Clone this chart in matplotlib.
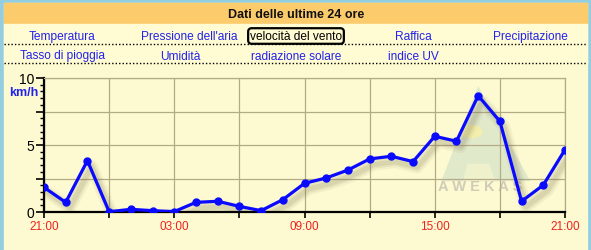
import matplotlib.pyplot as plt
import matplotlib.patheffects as pe
from matplotlib.patches import Rectangle, Polygon, Circle
from matplotlib.lines import Line2D

plt.rcParams['font.family'] = ['Liberation Sans', 'DejaVu Sans']

# hourly wind speed, 21:00 -> 21:00
hours = list(range(25))
speed = [1.84, 0.72, 3.83, 0.02, 0.2, 0.1, 0.03, 0.72, 0.8, 0.42, 0.1, 0.92,
         2.14, 2.54, 3.13, 3.96, 4.16, 3.76, 5.65, 5.28, 8.68, 6.77, 0.8, 2.01, 4.65]
tick_pos = [0, 3, 6, 9, 12, 15, 18, 21, 24]
tick_labels = ['21:00', '', '03:00', '', '09:00', '', '15:00', '', '21:00']

menu_row1 = ['Temperatura', "Pressione dell'aria", 'velocità del vento', 'Raffica', 'Precipitazione']
menu_row1_x = [62, 189, 296, 413, 530]
menu_row2 = ['Tasso di pioggia', 'Umidità', 'radiazione solare', 'indice UV']
menu_row2_x = [62, 180, 296, 413]

W, H = 591, 251
fig = plt.figure(figsize=(W / 100, H / 100), dpi=100, facecolor='#fdf9d0')


def fx(px):
    return px / W


def fy(py):
    return 1 - py / H


# page frame, header band and menu rows
fig.add_artist(Rectangle((0, 0), 1, 1, transform=fig.transFigure, color='#92cde0', zorder=0))
fig.add_artist(Rectangle((fx(4), 0), fx(583), fy(4), transform=fig.transFigure,
                         color='#fdf9d0', zorder=0))
fig.add_artist(Rectangle((fx(4), fy(25)), fx(583), fy(4) - fy(25), transform=fig.transFigure,
                         color='#fccb6b', zorder=0))
fig.add_artist(Rectangle((fx(4), fy(64)), fx(583), fy(25) - fy(64), transform=fig.transFigure,
                         color='#fffbd3', zorder=0))
for yy in [45, 64]:
    fig.add_artist(Line2D([fx(4), fx(587)], [fy(yy), fy(yy)], transform=fig.transFigure,
                          color='black', lw=1, ls=(0, (1, 1.5)), zorder=1))

fig.text(fx(296), fy(15.5), 'Dati delle ultime 24 ore', ha='center', va='center',
         fontsize=9, fontweight='bold', color='#111111')
for lab, x in zip(menu_row1, menu_row1_x):
    if lab == 'velocità del vento':
        fig.text(fx(x), fy(37), lab, ha='center', va='center', fontsize=8.6, color='black',
                 bbox=dict(boxstyle='round,pad=0.15,rounding_size=0.3', fc='none', ec='black', lw=1.6))
    else:
        fig.text(fx(x), fy(37), lab, ha='center', va='center', fontsize=8.6, color='#2222ee')
for lab, x in zip(menu_row2, menu_row2_x):
    fig.text(fx(x), fy(56.5), lab, ha='center', va='center', fontsize=8.6, color='#2222ee')

# chart
ax = fig.add_axes([fx(44), fy(213), fx(521), fy(79) - fy(213)])
ax.set_facecolor('#fdf9d0')
ax.set_xlim(0, 24)
ax.set_ylim(0, 10)

# AWEKAS watermark
ax.add_patch(Polygon([(20.0, 9.4), (18.3, 2.3), (22.4, 2.3)], closed=True,
                     fc='#cfdfc8', ec='none', alpha=0.6, zorder=1))
ax.add_patch(Polygon([(19.3, 2.3), (19.5, 3.6), (20.5, 3.6), (20.8, 2.3)], closed=True,
                     fc='#fdf9d0', ec='none', alpha=0.5, zorder=1))
ax.add_patch(Circle((19.7, 6.0), 0.5, fc='#f6efa8', ec='none', alpha=0.9, zorder=1))
ax.text(20.1, 1.95, 'A W E K A S', ha='center', va='center', fontsize=10.5, fontweight='bold',
        color='#cfcdb8', zorder=1)

ax.set_xticks(tick_pos)
ax.set_xticklabels(tick_labels)
ax.set_yticks([0, 2.5, 5, 7.5, 10])
ax.set_yticklabels(['0', '', '5', '', '10'])
ax.set_yticks([i * 0.5 for i in range(21)], minor=True)
ax.grid(True, which='major', color='#b2ab85', lw=0.9)
ax.tick_params(axis='x', direction='out', length=4, width=1.2, colors='black',
               labelcolor='#ee2222', labelsize=8.5, pad=2)
ax.tick_params(axis='y', which='major', direction='out', length=6, width=1.2,
               labelsize=10, pad=1)
ax.tick_params(axis='y', which='minor', direction='out', length=3, width=1)
for side in ['top', 'right']:
    ax.spines[side].set_color('#b2ab85')
    ax.spines[side].set_linewidth(0.9)
for side in ['left', 'bottom']:
    ax.spines[side].set_color('black')
    ax.spines[side].set_linewidth(1.6)

# soft shadow under the line
ax.plot(hours, speed, lw=2, zorder=2, solid_joinstyle='round',
        path_effects=[pe.SimpleLineShadow(offset=(3, -4), shadow_color='#7a7050', alpha=0.07, linewidth=9),
                      pe.SimpleLineShadow(offset=(3, -4), shadow_color='#7a7050', alpha=0.1, linewidth=6),
                      pe.SimpleLineShadow(offset=(3, -4), shadow_color='#7a7050', alpha=0.12, linewidth=3.5)])
ax.plot(hours, speed, color='#0a0aff', lw=2.3, marker='o', markersize=5, zorder=3)

fig.text(fx(24), fy(93), 'km/h', ha='center', va='center', fontsize=9,
         fontweight='bold', color='#2222ee')

fig.savefig('out.png', dpi=100, facecolor=fig.get_facecolor())
